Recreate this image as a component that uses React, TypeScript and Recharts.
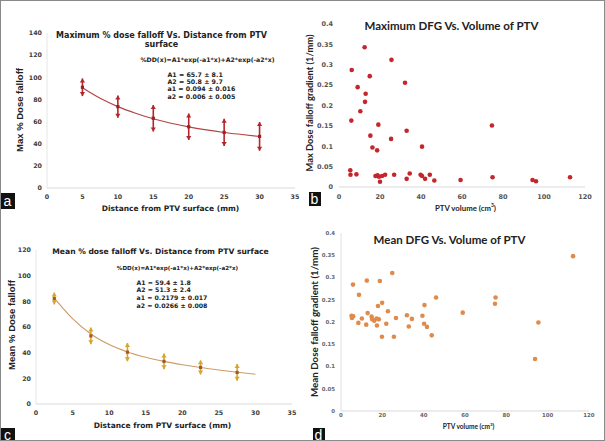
import React from "react";
import {
  ComposedChart, ScatterChart, Line, Scatter, XAxis, YAxis, ErrorBar,
} from "recharts";

// panel a: maximum % dose falloff vs distance
const distA = [5, 10, 15, 20, 25, 30];
const maxFalloff = [91, 73.5, 63, 55.3, 50.2, 46.6];
const maxFalloffErr = [8, 10, 12, 12, 12.3, 13];
const fitDistA = [5, 7.5, 10, 12.5, 15, 17.5, 20, 22.5, 25, 27.5, 30];
const fitMaxFalloff = [90.5, 81, 73.5, 67.5, 62.5, 58.5, 55.2, 52.5, 50.2, 48.3, 46.5];

// panel c: mean % dose falloff vs distance
const distC = [2.5, 7.5, 12.5, 17.5, 22.5, 27.5];
const meanFalloff = [82.2, 53.1, 40.4, 33.2, 28.5, 24.6];
const meanFalloffErr = [4.6, 6.5, 7.1, 6.1, 5.5, 6.5];
const fitDistC = [2.5, 5, 7.5, 10, 12.5, 15, 17.5, 20, 22.5, 25, 27.5, 30];
const fitMeanFalloff = [82.5, 66.5, 54.5, 46.3, 40.6, 36.4, 33.2, 30.6, 28.4, 26.5, 24.8, 23.2];

// panel b: maximum DFG vs PTV volume
const volB = [
  12.5, 25.6, 6.2, 15, 32.2, 9.1, 13, 12.7, 10.4, 6, 19.2, 74.6, 33, 15.3, 25.4, 16.3, 40.5, 18.6,
  5.5, 5.6, 8.5, 17.8, 18.8, 19.5, 20, 21, 22.5, 26.9, 33, 34.5, 39.8, 40.5, 42, 44.3, 46.5, 59.3,
  74.9, 94.4, 96.1, 112.7,
];
const maxDfg = [
  0.343, 0.312, 0.287, 0.272, 0.256, 0.245, 0.229, 0.209, 0.186, 0.163, 0.153, 0.151, 0.138, 0.126,
  0.118, 0.097, 0.099, 0.09, 0.041, 0.03, 0.031, 0.027, 0.029, 0.025, 0.013, 0.027, 0.03, 0.03,
  0.02, 0.033, 0.03, 0.027, 0.02, 0.03, 0.016, 0.017, 0.024, 0.017, 0.014, 0.024,
];

// panel d: mean DFG vs PTV volume
const volD = [
  112.3, 24.8, 5.8, 12.5, 18.8, 8.7, 19.9, 46, 74.8, 74.5, 40.4, 17.9, 22.7, 58.9, 12.9, 5.1, 5.9,
  5.3, 10.1, 14.8, 15.1, 16.1, 17.2, 18.3, 26.6, 31.9, 34.3, 39.4, 95.5, 8.4, 12.2, 17.4, 21.9,
  32.8, 40.2, 41.6, 43.9, 19.8, 25.6, 93.9,
];
const meanDfg = [
  0.348, 0.31, 0.284, 0.293, 0.292, 0.261, 0.243, 0.255, 0.255, 0.241, 0.238, 0.236, 0.224, 0.221,
  0.22, 0.214, 0.213, 0.209, 0.208, 0.212, 0.206, 0.203, 0.208, 0.206, 0.209, 0.215, 0.207, 0.214,
  0.199, 0.198, 0.194, 0.192, 0.196, 0.19, 0.196, 0.189, 0.17, 0.167, 0.167, 0.117,
];

const distTicks = [0, 5, 10, 15, 20, 25, 30, 35];
const maxTicks = [0, 20, 40, 60, 80, 100, 120, 140];
const meanTicks = [0, 20, 40, 60, 80, 100, 120];
const volTicks = [0, 20, 40, 60, 80, 100, 120];
const dfgTicks = [0, 0.05, 0.1, 0.15, 0.2, 0.25, 0.3, 0.35, 0.4];

const withErr = (xs: number[], ys: number[], es: number[]) =>
  xs.map((x, i) => ({ x, y: ys[i], err: es[i], hi: ys[i] + es[i], lo: ys[i] - es[i] }));
const pairs = (xs: number[], ys: number[]) => xs.map((x, i) => ({ x, y: ys[i] }));
const fit = (xs: number[], ys: number[]) => xs.map((x, i) => ({ x, fit: ys[i] }));

const arrow = (up: boolean, color: string) => (p: any) => {
  const { cx, cy } = p;
  if (cx == null || cy == null) return <g />;
  const w = 2.6, h = 4;
  const s = up ? 1 : -1;
  return <path d={`M${cx - w},${cy + s * h} L${cx},${cy} L${cx + w},${cy + s * h} Z`} fill={color} />;
};
const square = (color: string, r: number) => (p: any) =>
  p.cx == null ? <g /> : <rect x={p.cx - r} y={p.cy - r} width={r * 2} height={r * 2} fill={color} />;
const dot = (color: string, r: number) => (p: any) =>
  p.cx == null ? <g /> : <circle cx={p.cx} cy={p.cy} r={r} fill={color} />;

const verdana = "'DejaVu Sans', Verdana, sans-serif";
const calibri = "Lato, 'Open Sans', sans-serif";
const tickV = { fontSize: 6.3, fontWeight: 700, fill: "#3c3c3c", fontFamily: verdana };
const tickC = { fontSize: 6.5, fontWeight: 700, fill: "#555", fontFamily: verdana };

function Text({ x, y, size, font = verdana, rotate = false, children, weight = 700 }: any) {
  return (
    <div
      style={{
        position: "absolute", left: x, top: y, fontSize: size, fontFamily: font, fontWeight: weight,
        color: "#222", whiteSpace: "nowrap", lineHeight: 1,
        transform: `translate(-50%, -50%)${rotate ? " rotate(-90deg)" : ""}`,
      }}
    >
      {children}
    </div>
  );
}

function Tag({ x, y, w, h, letter }: any) {
  return (
    <div
      style={{
        position: "absolute", left: x, top: y, width: w, height: h, background: "#111", color: "#fff",
        fontFamily: "'Liberation Sans', Arial, sans-serif", fontSize: 14, lineHeight: `${h}px`, textAlign: "center",
      }}
    >
      {letter}
    </div>
  );
}

function Params({ x, y, lines, size, gap }: any) {
  return (
    <div style={{ position: "absolute", left: x, top: y, fontFamily: verdana, fontWeight: 700, fontSize: size, color: "#222", lineHeight: `${gap}px`, whiteSpace: "pre" }}>
      {lines.join("\n")}
    </div>
  );
}

function FalloffChart({ pts, curve, yTicks, yMax, errColor, curveColor, markColor, width, height, margin, yWidth, xHeight }: any) {
  return (
    <ComposedChart width={width} height={height} margin={margin}>
      <XAxis type="number" dataKey="x" domain={[0, 35]} ticks={distTicks} tick={tickV} tickLine={false} tickSize={5} axisLine={{ stroke: "#d9d9d9" }} height={xHeight} allowDuplicatedCategory={false} />
      <YAxis type="number" domain={[0, yMax]} ticks={yTicks} tick={tickV} tickLine={false} tickSize={3} axisLine={{ stroke: "#e6e6e6" }} width={yWidth} />
      <Line data={curve} dataKey="fit" type="monotone" stroke={curveColor} strokeWidth={1.1} dot={false} isAnimationActive={false} />
      <Scatter data={pts} dataKey="y" fill={markColor} shape={square(markColor, 1.6)} isAnimationActive={false}>
        <ErrorBar dataKey="err" direction="y" width={0} stroke={errColor} strokeWidth={1.6} isAnimationActive={false} />
      </Scatter>
      <Scatter data={pts} dataKey="hi" fill={errColor} shape={arrow(true, errColor)} isAnimationActive={false} />
      <Scatter data={pts} dataKey="lo" fill={errColor} shape={arrow(false, errColor)} isAnimationActive={false} />
    </ComposedChart>
  );
}

function DfgChart({ pts, color, width, height, margin, yWidth, xHeight, tick, yAxisLine, xTickGap = 5 }: any) {
  return (
    <ScatterChart width={width} height={height} margin={margin}>
      <XAxis type="number" dataKey="x" domain={[0, 120]} ticks={volTicks} tick={tick} tickLine={false} tickSize={xTickGap} tickMargin={2} axisLine={{ stroke: "#d9d9d9" }} height={xHeight} />
      <YAxis type="number" dataKey="y" domain={[0, 0.4]} ticks={dfgTicks} tick={tick} tickLine={false} tickSize={4} axisLine={yAxisLine ? { stroke: "#e0e0e0" } : false} width={yWidth} />
      <Scatter data={pts} fill={color} shape={dot(color, 2.3)} isAnimationActive={false} />
    </ScatterChart>
  );
}

export default function App() {
  const ptsA = withErr(distA, maxFalloff, maxFalloffErr);
  const ptsC = withErr(distC, meanFalloff, meanFalloffErr);
  const red = "#b3262b";
  return (
    <div style={{ position: "absolute", left: 0, top: 0, width: 605, height: 441, background: "#fff", border: "1.5px solid #8a8a8a", boxSizing: "border-box", overflow: "hidden" }}>
      <div style={{ position: "absolute", left: -1.5, top: -1.5 }}>
        {/* a */}
        <div style={{ position: "absolute", left: 0, top: 0 }}>
          <FalloffChart pts={ptsA} curve={fit(fitDistA, fitMaxFalloff)} yTicks={maxTicks} yMax={140}
            errColor={red} curveColor="#b04545" markColor="#9e1f24"
            width={300} height={220} margin={{ top: 33, right: 5, left: 0, bottom: 0 }} yWidth={47} xHeight={32} />
        </div>
        <Text x={162} y={36} size={8}>Maximum % dose falloff Vs. Distance from PTV</Text>
        <Text x={162} y={45} size={8}>surface</Text>
        <Text x={208} y={60} size={6.2}>%DD(x)=A1*exp(-a1*x)+A2*exp(-a2*x)</Text>
        <Params x={168} y={71} size={6.3} gap={7.4} lines={["A1 = 65.7 ± 8.1", "A2 = 50.8 ± 9.7", "a1 = 0.094 ± 0.016", "a2 = 0.006 ± 0.005"]} />
        <Text x={20} y={110} size={9.5} rotate font="'Liberation Sans', Arial, sans-serif">Max % Dose falloff</Text>
        <Text x={171} y={209} size={7.5}>Distance from PTV surface (mm)</Text>
        <Tag x={1} y={193} w={14} h={16} letter="a" />

        {/* b */}
        <div style={{ position: "absolute", left: 300, top: 0 }}>
          <DfgChart pts={pairs(volB, maxDfg)} color="#c4262c" tick={tickC}
            width={305} height={220} margin={{ top: 24, right: 20, left: 0, bottom: 0 }} yWidth={39} xHeight={33} />
        </div>
        <Text x={452} y={26} size={11.5} font={calibri}>Maximum DFG Vs. Volume of PTV</Text>
        <Text x={310} y={103} size={9.3} rotate font={calibri}>Max Dose falloff gradient (1/mm)</Text>
        <Text x={466} y={208} size={7.8} font={calibri}>PTV volume (cm<sup style={{ fontSize: 5 }}>3</sup>)</Text>
        <Tag x={309} y={192} w={12} h={14} letter="b" />

        {/* c */}
        <div style={{ position: "absolute", left: 0, top: 220 }}>
          <FalloffChart pts={ptsC} curve={fit(fitDistC, fitMeanFalloff)} yTicks={meanTicks} yMax={120}
            errColor="#d6a62c" curveColor="#cf9a68" markColor="#a35a2a"
            width={300} height={221} margin={{ top: 30, right: 8, left: 0, bottom: 0 }} yWidth={36} xHeight={37} />
        </div>
        <Text x={161} y={252} size={7.6}>Mean % dose falloff Vs. Distance from PTV surface</Text>
        <Text x={178} y={269} size={5.6}>%DD(x)=A1*exp(-a1*x)+A2*exp(-a2*x)</Text>
        <Params x={137} y={279} size={6.2} gap={7.7} lines={["A1 = 59.4 ± 1.8", "A2 = 51.3 ± 2.4", "a1 = 0.2179 ± 0.017", "a2 = 0.0266 ± 0.008"]} />
        <Text x={12} y={325} size={9.5} rotate font="'Liberation Sans', Arial, sans-serif">Mean % Dose falloff</Text>
        <Text x={163} y={426} size={7.5}>Distance from PTV surface (mm)</Text>
        <Tag x={1} y={428} w={14} h={14} letter="c" />

        {/* d */}
        <div style={{ position: "absolute", left: 300, top: 220 }}>
          <DfgChart pts={pairs(volD, meanDfg)} color="#e08b4c" tick={{ ...tickC, fontSize: 5.4, fill: "#666" }} yAxisLine xTickGap={0}
            width={305} height={221} margin={{ top: 13, right: 16, left: 0, bottom: 0 }} yWidth={41} xHeight={30} />
        </div>
        <Text x={450} y={240} size={11.5} font={calibri}>Mean DFG Vs. Volume of PTV</Text>
        <Text x={315} y={322} size={9.8} rotate font={calibri}>Mean Dose falloff gradient (1/mm)</Text>
        <Text x={469} y={426} size={6.6} font={calibri}>PTV volume (cm<sup style={{ fontSize: 4.5 }}>3</sup>)</Text>
        <Tag x={313} y={428} w={12} h={14} letter="d" />
      </div>
    </div>
  );
}
